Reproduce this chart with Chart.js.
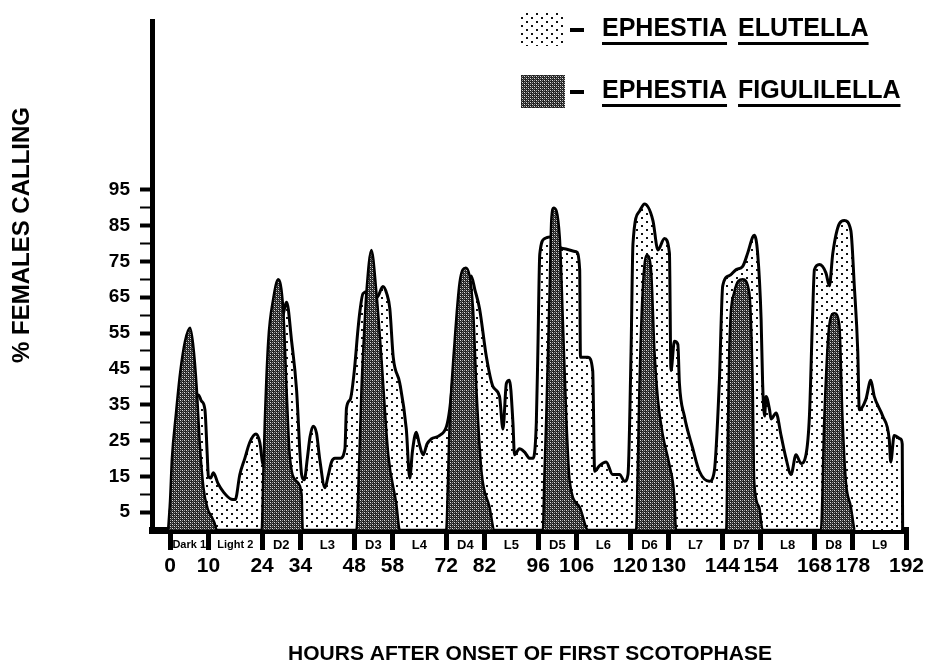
<!DOCTYPE html>
<html lang="en">
<head>
<meta charset="utf-8">
<title>Ephestia calling rhythm</title>
<script src="https://cdn.jsdelivr.net/npm/chart.js@4.4.1/dist/chart.umd.min.js"></script>
<style>
  html, body { margin: 0; padding: 0; background: #fff; }
</style>
</head>
<body>
<canvas id="callingChart" width="931" height="663"></canvas>
<script>
// Границы фаз (часы) и подписи фаз под осью
const phaseBounds = [0, 10, 24, 34, 48, 58, 72, 82, 96, 106, 120, 130, 144, 154, 168, 178, 192];
const phaseLabels = ['Dark 1', 'Light 2', 'D2', 'L3', 'D3', 'L4', 'D4', 'L5', 'D5', 'L6', 'D6', 'L7', 'D7', 'L8', 'D8', 'L9'];

// Деления оси Y и подписанные значения
const yTickValues = [0, 5, 10, 15, 20, 25, 30, 35, 40, 45, 50, 55, 60, 65, 70, 75, 80, 85, 90, 95];
const yTickLabels = [5, 15, 25, 35, 45, 55, 65, 75, 85, 95];

// Ephestia elutella
const elutellaHours = [
  0, 1, 2, 3, 4, 5, 6, 6.8, 7.4, 8.2, 9.1, 9.7, 10, 10.6, 11.3, 12.5, 14, 16, 17, 18.2,
  19.5, 20.8, 22.4, 23.4, 24.3, 25, 26.5, 28, 29.5, 30.4, 31.7, 33, 33.9, 34.3, 35, 35.8,
  36.5, 37.3, 38.2, 39, 40.4, 41.2, 42.1, 43, 44.3, 45.6, 46, 47, 48, 49, 49.5, 50.3,
  51.5, 53, 54, 55.5, 56.5, 57.3, 58.2, 59.9, 61.6, 62.5, 63.2, 64.2, 65, 66, 67, 68.1,
  70.3, 72.1, 72.9, 74, 75.5, 77, 78.5, 79.5, 80.7, 82.5, 84.2, 85.9, 86.8, 87.7, 88.5,
  89.4, 89.8, 91.1, 92.4, 93.8, 94.6, 95.5, 95.9, 96.4, 97.7, 99, 100.5, 102.4, 105.9,
  106.8, 107, 109, 110.2, 110.7, 112, 113.7, 115.4, 117.2, 118.5, 119.4, 120.2, 120.7,
  122.4, 123.7, 125.9, 127.2, 128.9, 130.2, 130.6, 131.5, 132.4, 132.8, 134.1, 136.3,
  138, 140.6, 141.9, 143.2, 144.1, 145.8, 147.6, 149.3, 150.6, 151.9, 152.3, 153.2,
  154.1, 154.5, 155, 155.4, 156.3, 156.7, 158, 159.3, 160.6, 161.9, 163.2, 164.5, 165.8,
  166.7, 167.5, 168, 169.3, 171, 171.9, 172.8, 174.5, 175.8, 177.5, 178.4, 179.3, 179.7,
  181.4, 182.7, 183.6, 185.8, 187.5, 187.9, 188.8, 190.5, 190.9, 191
];
const elutellaPct = [
  5, 14, 19, 22, 25, 29, 33.6, 37, 37.7, 36, 33.6, 21, 15, 14.5, 16, 13, 10.5, 8.6, 8.5, 15.5,
  20, 24.5, 26.8, 24.5, 18.2, 22, 35, 50, 60, 63.6, 52.7, 39, 21, 15.5, 14, 20,
  26, 29, 27, 20, 11.8, 15, 19, 20, 20, 22.7, 34, 36.5, 44, 56, 61, 66,
  66.5, 65, 65, 68, 66, 61.8, 48.2, 41, 28.2, 14.5, 22, 27.3, 24, 21, 24, 25.4,
  26.4, 29, 33.6, 45, 58, 67, 70.9, 67, 61.8, 48.2, 40, 37.3, 28.2, 41, 41.8,
  30, 21, 22.7, 21.8, 20, 20, 30, 50, 77, 81.4, 81.8, 80, 78.6, 77.7,
  72.7, 48.2, 48.2, 44.5, 16.4, 18, 19, 15.5, 15.5, 13.6, 15.5, 50, 80,
  89, 91, 86.4, 78.2, 81.4, 77.3, 44.5, 52.7, 51.8, 41, 31.8, 22.7,
  16.4, 13.6, 16.4, 41, 68.2, 71, 72.7, 73.6, 77.3, 81.8, 82.3, 77.3,
  59, 41, 31.8, 37.3, 33.6, 31, 32.7, 26.4, 20, 15.5, 21, 18.6, 21,
  31.8, 59, 72.7, 74.1, 71.8, 68.2, 77.3, 85.5, 86.4, 83.6, 68.2, 50, 33.6,
  36.4, 41.8, 37.3, 31.8, 25.4, 19, 26.4, 25.4, 24, 0
];

// Ephestia figulilella
const figulilellaHours = [
  -0.5, 0, 0.5, 1.5, 2.6, 3.9, 5.2, 6, 7, 7.7, 8.7, 9.8, 10.9, 11.6, 12.2,
  23.9, 24.3, 24.7, 25.6, 26.9, 28.2, 29.5, 30.4, 31.2, 33, 34.3, 34.6,
  48.6, 49.2, 49.9, 50.6, 51.2, 52.5, 53.8, 55.1, 56.9, 59, 59.9,
  72, 72.5, 72.9, 74.2, 75.5, 77.1, 79, 79.9, 81.2, 83.3, 84.6,
  97.2, 97.6, 98.1, 99, 99.4, 100, 101.6, 102.4, 103.3, 104.2, 106.8, 109,
  121.5, 122, 122.4, 123.3, 124.3, 125.4, 126.3, 127.2, 128.5, 130.2, 131.5, 131.9,
  145, 145.4, 145.8, 147.1, 149.3, 151, 151.9, 152.3, 153.6, 154.5,
  169.7, 170.6, 171.9, 173.2, 174.5, 175.3, 176.2, 177.5, 178.4
];
const figulilellaPct = [
  0, 8, 20, 32, 43.6, 52.7, 56.5, 52, 39, 25, 12, 6, 3.6, 2, 0,
  0, 15, 30, 52.7, 64.5, 70, 61.8, 39, 21, 13.6, 10, 0,
  0, 15, 39, 55, 66.4, 78.2, 66.4, 48.2, 21, 7.3, 0,
  0, 15, 30, 52.7, 69.1, 73.2, 61.8, 39, 16.4, 6.4, 0,
  0, 15, 31.8, 68.2, 86.4, 90, 81.8, 59, 31.8, 13.6, 6.4, 0,
  0, 20, 41, 68.2, 76.8, 72.7, 50, 36.4, 26.4, 18.2, 9.1, 0,
  0, 25, 50, 66.4, 70, 66.4, 41, 13.6, 6.4, 0,
  0, 31.8, 57.3, 60.5, 57.3, 31.8, 13.6, 6.4, 0
];

const xTitle = 'HOURS AFTER ONSET OF FIRST SCOTOPHASE';
const yTitle = '% FEMALES CALLING';
const fontFamily = '"Liberation Sans", Arial, Helvetica, sans-serif';

document.addEventListener('DOMContentLoaded', function() {
  initCallingChart();
});

/**
 * Пары часы/процент в точки для линейной оси
 */
function toPoints(hours, values) {
  return hours.map(function(h, i) {
    return { x: h, y: values[i] };
  });
}

/**
 * Точечная штриховка (E. elutella)
 */
function makeDotPattern() {
  const tile = document.createElement('canvas');
  tile.width = 10;
  tile.height = 8;
  const g = tile.getContext('2d');
  g.fillStyle = '#fff';
  g.fillRect(0, 0, 10, 8);
  g.fillStyle = '#111';
  g.fillRect(1, 1, 2, 2);
  g.fillRect(6, 5, 2, 2);
  return g.createPattern(tile, 'repeat');
}

/**
 * Тёмная сетчатая штриховка (E. figulilella)
 */
function makeHatchPattern() {
  const tile = document.createElement('canvas');
  tile.width = 4;
  tile.height = 4;
  const g = tile.getContext('2d');
  g.fillStyle = '#222';
  g.fillRect(0, 0, 4, 4);
  g.fillStyle = '#e0e0e0';
  g.fillRect(0, 0, 1, 1);
  g.fillRect(2, 2, 1, 1);
  g.fillStyle = '#9a9a9a';
  g.fillRect(2, 0, 1, 1);
  g.fillRect(0, 2, 1, 1);
  g.fillStyle = '#555';
  g.fillRect(1, 1, 1, 1);
  g.fillRect(3, 3, 1, 1);
  return g.createPattern(tile, 'repeat');
}

// Подписи фаз (Dark 1, Light 2, D2 ...) между делениями оси X
const phaseLabelPlugin = {
  id: 'phaseLabels',
  afterDraw: function(chart) {
    const ctx = chart.ctx;
    const xScale = chart.scales.x;
    const y = chart.chartArea.bottom + 15;
    ctx.save();
    ctx.fillStyle = '#000';
    ctx.textAlign = 'center';
    ctx.textBaseline = 'middle';
    phaseLabels.forEach(function(label, i) {
      const mid = (phaseBounds[i] + phaseBounds[i + 1]) / 2;
      ctx.font = (label.length > 3 ? 'bold 11px ' : 'bold 13px ') + fontFamily;
      ctx.fillText(label, xScale.getPixelForValue(mid), y);
    });
    ctx.restore();
  }
};

// Заголовок оси Y (рисуем сами, чтобы сместить выше центра)
const yTitlePlugin = {
  id: 'yTitle',
  afterDraw: function(chart) {
    const ctx = chart.ctx;
    ctx.save();
    ctx.translate(22, 235);
    ctx.rotate(-Math.PI / 2);
    ctx.fillStyle = '#000';
    ctx.font = 'bold 24px ' + fontFamily;
    ctx.textAlign = 'center';
    ctx.textBaseline = 'middle';
    ctx.fillText(yTitle, 0, 0);
    ctx.restore();
  }
};

// Легенда в правом верхнем углу: образец штриховки, тире и подчёркнутые слова
const speciesLegendPlugin = {
  id: 'speciesLegend',
  afterDraw: function(chart) {
    const ctx = chart.ctx;
    const rows = [
      { ds: chart.data.datasets[0], top: 13 },
      { ds: chart.data.datasets[1], top: 75 }
    ];
    ctx.save();
    rows.forEach(function(row) {
      const cy = row.top + 16;
      ctx.fillStyle = row.ds.backgroundColor;
      ctx.fillRect(521, row.top, 44, 33);
      ctx.fillStyle = '#000';
      ctx.fillRect(570, cy - 1, 14, 4);
      ctx.font = 'bold 25px ' + fontFamily;
      ctx.textAlign = 'left';
      ctx.textBaseline = 'middle';
      let x = 602;
      row.ds.label.split(' ').forEach(function(word) {
        const w = ctx.measureText(word).width;
        ctx.fillText(word, x, cy);
        ctx.fillRect(x, cy + 13, w, 3);
        x += w + 11;
      });
    });
    ctx.restore();
  }
};

/**
 * Построение графика
 */
function initCallingChart() {
  const canvas = document.getElementById('callingChart');
  if (!canvas) return;

  Chart.defaults.font.family = fontFamily;
  Chart.defaults.color = '#000';

  const data = {
    datasets: [
      {
        label: 'EPHESTIA ELUTELLA',
        data: toPoints(elutellaHours, elutellaPct),
        backgroundColor: makeDotPattern(),
        borderColor: '#000',
        borderWidth: 3,
        fill: 'origin',
        pointRadius: 0,
        cubicInterpolationMode: 'monotone',
        order: 1
      },
      {
        label: 'EPHESTIA FIGULILELLA',
        data: toPoints(figulilellaHours, figulilellaPct),
        backgroundColor: makeHatchPattern(),
        borderColor: '#000',
        borderWidth: 2.5,
        fill: 'origin',
        pointRadius: 0,
        cubicInterpolationMode: 'monotone',
        order: 0
      }
    ]
  };

  const options = {
    responsive: false,
    animation: false,
    layout: {
      padding: { top: 10, right: 23, bottom: 0, left: 0 }
    },
    plugins: {
      legend: { display: false },
      tooltip: { enabled: false }
    },
    scales: {
      x: {
        type: 'linear',
        min: -4.7,
        max: 192.4,
        afterBuildTicks: function(scale) {
          scale.ticks = phaseBounds.map(function(v) { return { value: v }; });
        },
        afterFit: function(scale) {
          scale.height = 133;
        },
        ticks: {
          autoSkip: false,
          maxRotation: 0,
          minRotation: 0,
          padding: 4,
          font: { size: 21, weight: 'bold' },
          callback: function(value) { return String(value); }
        },
        grid: {
          drawOnChartArea: false,
          tickLength: 20,
          tickWidth: 5,
          tickColor: '#000'
        },
        border: { color: '#000', width: 7 },
        title: {
          display: true,
          text: xTitle,
          font: { size: 21, weight: 'bold', lineHeight: 0.8 },
          padding: 0
        }
      },
      y: {
        min: 0,
        max: 142,
        afterBuildTicks: function(scale) {
          scale.ticks = yTickValues.map(function(v) { return { value: v }; });
        },
        afterFit: function(scale) {
          scale.width = 152;
        },
        ticks: {
          padding: 10,
          font: { size: 19, weight: 'bold' },
          callback: function(value) {
            return yTickLabels.indexOf(value) >= 0 ? String(value) : '';
          }
        },
        grid: {
          drawOnChartArea: false,
          tickLength: 12,
          tickWidth: function(ctx) {
            return yTickLabels.indexOf(ctx.tick.value) >= 0 ? 4 : 2;
          },
          tickColor: function(ctx) {
            return ctx.tick.value === 0 ? 'rgba(0,0,0,0)' : '#000';
          }
        },
        border: { color: '#000', width: 5 }
      }
    }
  };

  try {
    new Chart(canvas, {
      type: 'line',
      data: data,
      options: options,
      plugins: [phaseLabelPlugin, yTitlePlugin, speciesLegendPlugin]
    });
  } catch (error) {
    console.error('Chart error:', error);
  }
}
</script>
</body>
</html>
